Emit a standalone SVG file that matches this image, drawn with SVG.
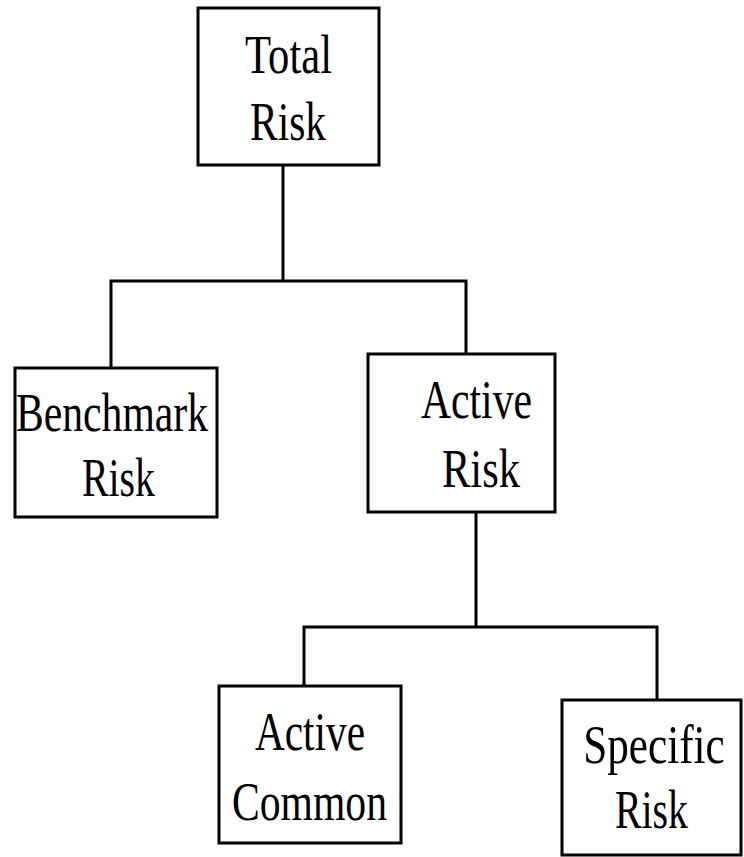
<svg xmlns="http://www.w3.org/2000/svg" width="744" height="857" viewBox="0 0 744 857">
<style>
.box{fill:#fff;stroke:#000;stroke-width:3}
.lbl{font-family:"Liberation Serif","Times New Roman",serif;font-size:54px;fill:#000;text-anchor:middle}
.conn{fill:none;stroke:#000;stroke-width:3}
</style>
<rect width="744" height="857" fill="#fff"/>
<g id="connectors">
<polyline class="conn" points="283,165 283,281"/>
<polyline class="conn" points="111,368 111,281 466,281 466,354"/>
<polyline class="conn" points="476,512 476,627"/>
<polyline class="conn" points="304,686 304,627 657,627 657,700"/>
</g>
<g id="total">
<rect class="box" x="198" y="8" width="181" height="157"/>
<text class="lbl" x="288.5" y="73" textLength="87" lengthAdjust="spacingAndGlyphs">Total</text>
<text class="lbl" x="288" y="140" textLength="76" lengthAdjust="spacingAndGlyphs">Risk</text>
</g>
<g id="benchmark">
<rect class="box" x="15" y="368" width="202" height="149"/>
<text class="lbl" x="112" y="431" textLength="192" lengthAdjust="spacingAndGlyphs">Benchmark</text>
<text class="lbl" x="118.5" y="496" textLength="73" lengthAdjust="spacingAndGlyphs">Risk</text>
</g>
<g id="active">
<rect class="box" x="368" y="354" width="187" height="158"/>
<text class="lbl" x="476.5" y="418" textLength="111" lengthAdjust="spacingAndGlyphs">Active</text>
<text class="lbl" x="481" y="487" textLength="78" lengthAdjust="spacingAndGlyphs">Risk</text>
</g>
<g id="activecommon">
<rect class="box" x="219" y="686" width="182" height="157"/>
<text class="lbl" x="310" y="750" textLength="110" lengthAdjust="spacingAndGlyphs">Active</text>
<text class="lbl" x="309.5" y="820" textLength="155" lengthAdjust="spacingAndGlyphs">Common</text>
</g>
<g id="specific">
<rect class="box" x="562" y="700" width="179" height="155"/>
<text class="lbl" transform="scale(0.8 1)" x="817.5" y="763">Specific</text>
<text class="lbl" x="651.5" y="828" textLength="73" lengthAdjust="spacingAndGlyphs">Risk</text>
</g>
</svg>
